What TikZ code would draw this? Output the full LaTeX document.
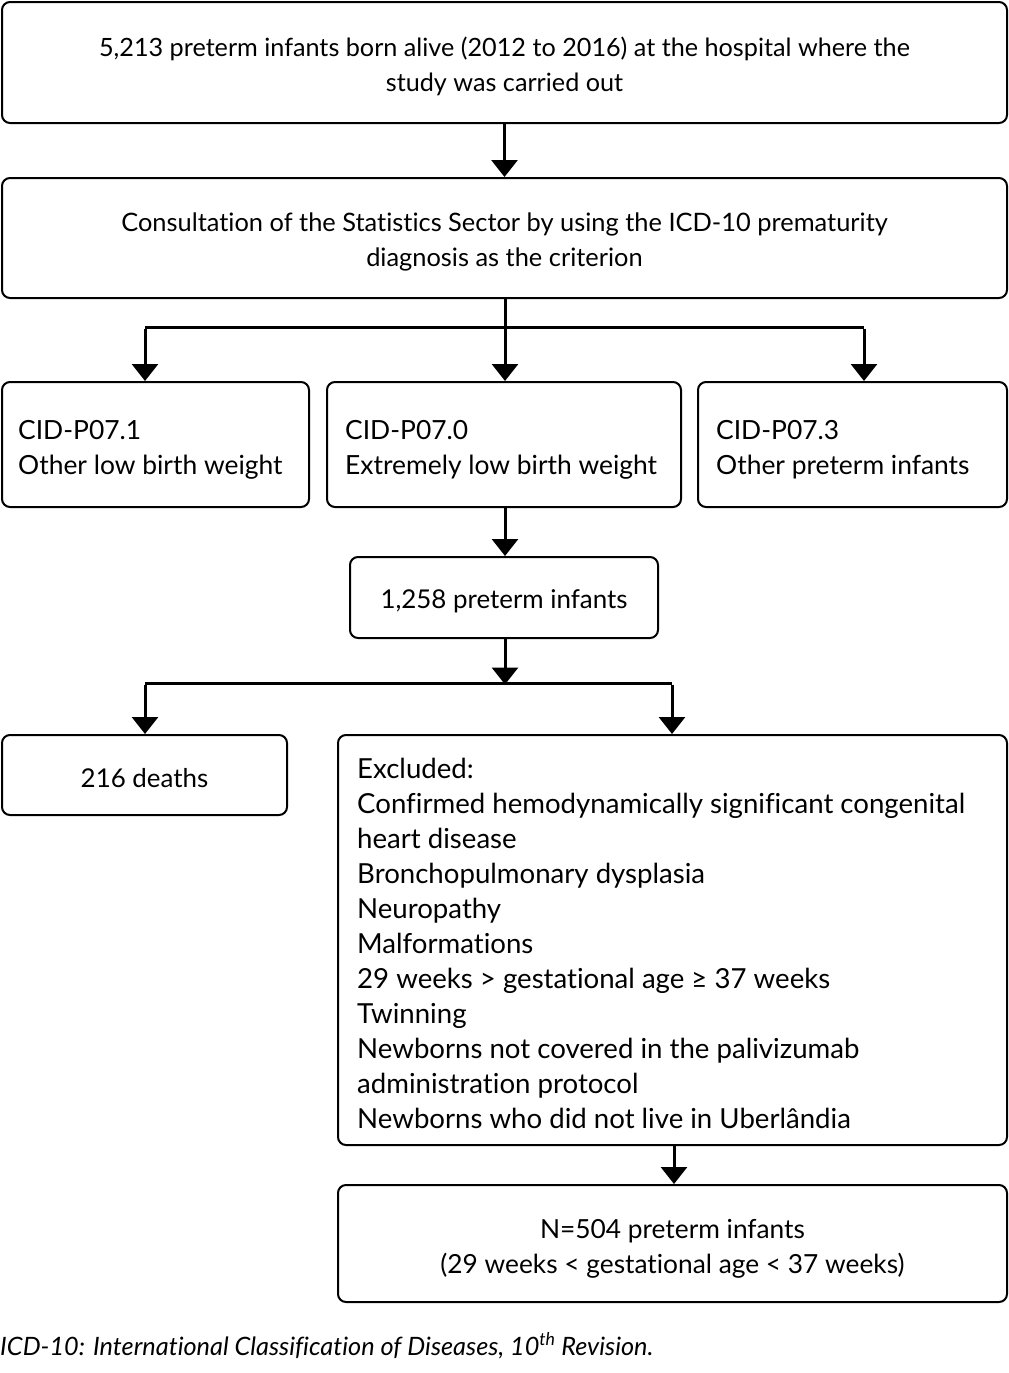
\documentclass[tikz,border=0pt]{standalone}
\usepackage{fontspec}
\setmainfont{Lato}[Ligatures=NoCommon]
\usetikzlibrary{arrows.meta,calc}
\begin{document}
\begin{tikzpicture}[x=1pt,y=-1pt,
  box/.style={draw=black,line width=2pt,rounded corners=8pt,inner sep=0pt},
  txt/.style={font=\fontsize{#1}{35}\selectfont,inner sep=0pt},
  txt/.default=26,
  conn/.style={line width=3pt},
  arr/.style={line width=3pt,-{Triangle[width=26pt,length=17pt]}}]
\useasboundingbox (0,0) rectangle (1009,1373);
% boxes
\node[box,minimum width=1005pt,minimum height=121pt] (b1) at (504.5,62.5) {};
\node[txt=25.2,align=center] (t1) at ($(b1.center)+(0,4)$) {5,213 preterm infants born alive (2012 to 2016) at the hospital where the\\study was carried out};
\node[box,minimum width=1005pt,minimum height=120pt] (b2) at (504.5,238) {};
\node[txt=25.4,align=center] (t2) at ($(b2.center)+(0,4)$) {Consultation of the Statistics Sector by using the ICD-10 prematurity\\diagnosis as the criterion};
\node[box,minimum width=307pt,minimum height=125pt] (c1) at (155.5,444.5) {};
\node[txt=26.4,align=left,anchor=west] (t3) at ($(c1.west)+(17,5)$) {CID-P07.1\\Other low birth weight};
\node[box,minimum width=354pt,minimum height=125pt] (c2) at (504,444.5) {};
\node[txt=26.4,align=left,anchor=west] (t4) at ($(c2.west)+(19,5)$) {CID-P07.0\\Extremely low birth weight};
\node[box,minimum width=309pt,minimum height=125pt] (c3) at (852.5,444.5) {};
\node[txt=26.4,align=left,anchor=west] (t5) at ($(c3.west)+(19,5)$) {CID-P07.3\\Other preterm infants};
\node[box,minimum width=308pt,minimum height=81pt] (d) at (504,597.5) {};
\node[txt=25.9] (t6) at ($(d.center)+(0,4)$) {1,258 preterm infants};
\node[box,minimum width=285pt,minimum height=80pt] (e1) at (144.5,775) {};
\node[txt=25.9] (t7) at ($(e1.center)+(0,3)$) {216 deaths};
\node[box,minimum width=669pt,minimum height=410pt] (e2) at (672.5,940) {};
\node[txt=27.6,align=left,anchor=west] (t8) at ($(e2.west)+(20,3)$) {Excluded:\\Confirmed hemodynamically significant congenital\\heart disease\\Bronchopulmonary dysplasia\\Neuropathy\\Malformations\\29 weeks > gestational age ≥ 37 weeks\\Twinning\\Newborns not covered in the palivizumab\\administration protocol\\Newborns who did not live in Uberlândia};
\node[box,minimum width=669pt,minimum height=117pt] (f) at (672.5,1243.5) {};
\node[txt=26.3,align=center] (t9) at ($(f.center)+(0,5)$) {N=504 preterm infants\\(29 weeks < gestational age < 37 weeks)};
% connectors
\draw[arr] (b1.south) -- (b2.north);
\coordinate (s1) at (505,327);
\coordinate (s1L) at (145,327);
\coordinate (s1R) at (864,327);
\draw[conn] (b2.south -| s1) -- (s1);
\draw[conn] (s1L) -- (s1R);
\draw[arr] ([yshift=-1.5pt]s1L) -- (s1L |- c1.north);
\draw[arr] (s1) -- (s1 |- c2.north);
\draw[arr] ([yshift=-1.5pt]s1R) -- (s1R |- c3.north);
\draw[arr] (c2.south -| s1) -- (d.north -| s1);
\coordinate (s2) at (505,683);
\coordinate (s2L) at (145,683);
\coordinate (s2R) at (672,683);
\draw[arr] (d.south -| s2) -- ([yshift=-1.5pt]s2);
\draw[conn] (s2L) -- (s2R);
\draw[arr] ([yshift=-1.5pt]s2L) -- (s2L |- e1.north);
\draw[arr] ([yshift=-1.5pt]s2R) -- (s2R |- e2.north);
\coordinate (s3) at (674,1145);
\draw[arr] (e2.south -| s3) -- (f.north -| s3);
% footnote
\node[anchor=base west,inner sep=0pt,font=\fontsize{25.3}{28}\selectfont\itshape] (fn) at (0,1355) {ICD-10: International Classification of Diseases, 10\textsuperscript{th} Revision.};
\end{tikzpicture}
\end{document}
